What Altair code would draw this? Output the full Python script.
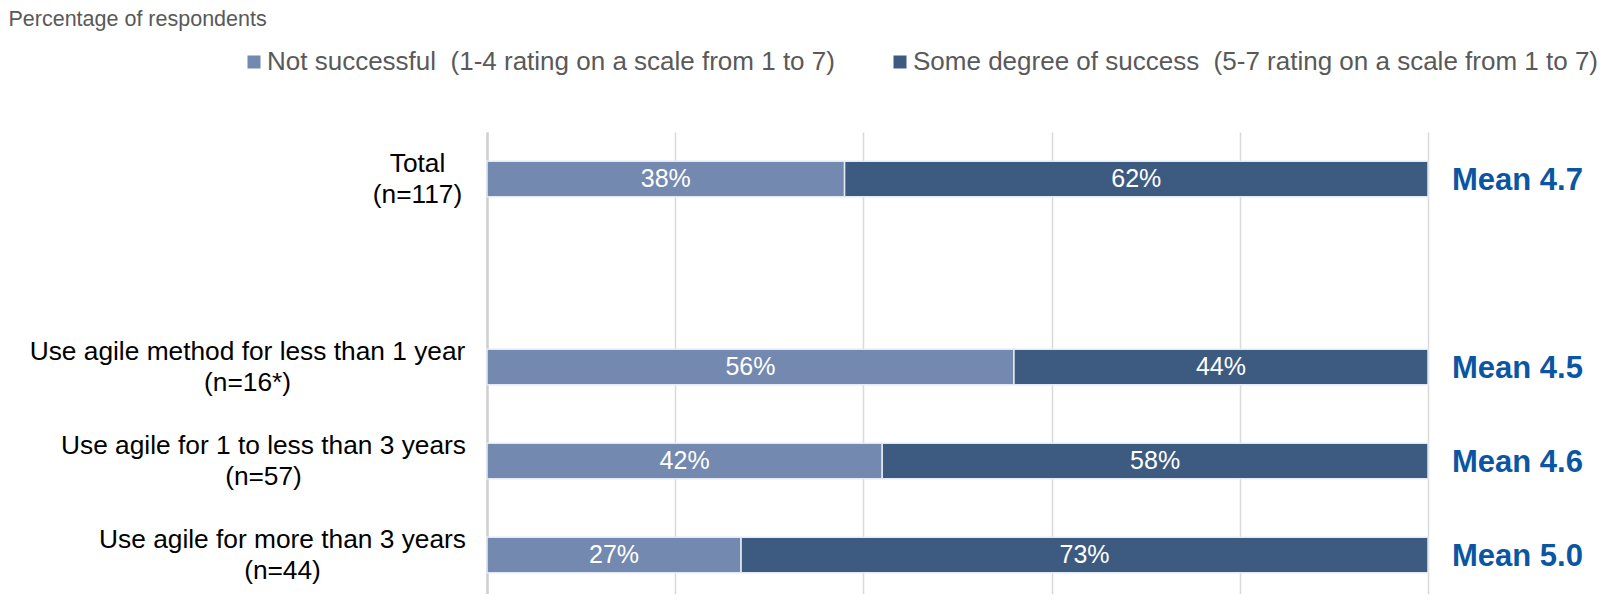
import altair as alt
import pandas as pd

# ---- data ----
categories = [
    "Total (n=117)",
    "Use agile method for less than 1 year (n=16*)",
    "Use agile for 1 to less than 3 years (n=57)",
    "Use agile for more than 3 years (n=44)",
]
series = [
    "Not successful\u00a0 (1-4 rating on a scale from 1 to 7)",
    "Some degree of success\u00a0 (5-7 rating on a scale from 1 to 7)",
]
not_successful = [38, 56, 42, 27]
some_success = [62, 44, 58, 73]
means = [4.7, 4.5, 4.6, 5.0]
x_title = "Percentage of respondents"

# ---- styles ----
colors = ["#7389b0", "#3d5a81"]
FONT = "Liberation Sans"
label_pads = [70, 240, 224, 205]

rows = []
for i, c in enumerate(categories):
    rows.append({"cat": c, "series": series[0], "value": not_successful[i], "order": 0})
    rows.append({"cat": c, "series": series[1], "value": some_success[i], "order": 1})
bars_df = pd.DataFrame(rows)
mean_df = pd.DataFrame({"cat": categories, "mean": means})

domain = [categories[0], ""] + categories[1:]

pad_cond = {
    "condition": [
        {"test": f"datum.value == '{c}'", "value": p}
        for c, p in zip(categories, label_pads)
    ],
    "value": 200,
}

y_enc = alt.Y(
    "cat:N",
    scale=alt.Scale(domain=domain, paddingInner=0.62, paddingOuter=0.31, range=[0, 470]),
    axis=alt.Axis(
        title=None,
        ticks=False,
        tickSize=0,
        domain=True,
        domainColor="#cfcfcf",
        domainWidth=2.5,
        grid=False,
        labelFont=FONT,
        labelFontSize=26.3,
        labelColor="#000000",
        labelAlign="center",
        labelBaseline="middle",
        labelLineHeight=31,
        labelOffset=-15,
        labelLimit=1000,
        labelPadding=pad_cond,
        labelExpr="indexof(datum.label, ' (') < 0 ? '' : [substring(datum.label, 0, indexof(datum.label, ' (')), substring(datum.label, indexof(datum.label, ' (') + 1)]",
    ),
)

x_scale = alt.Scale(domain=[0, 100], nice=False, zero=True)
x_axis = alt.Axis(
    orient="top",
    title=x_title,
    titleX=-479,
    titleY=-107,
    titleAngle=0,
    titleAlign="left",
    titleBaseline="alphabetic",
    titleFont=FONT,
    titleFontSize=21.5,
    titleFontWeight="normal",
    titleColor="#595959",
    labels=False,
    ticks=False,
    domain=False,
    grid=True,
    values=[0, 20, 40, 60, 80, 100],
    gridColor="#d9d9d9",
    gridWidth=1.5,
)

base = alt.Chart(bars_df).transform_stack(
    stack="value",
    groupby=["cat"],
    as_=["x0", "x1"],
    sort=[alt.SortField("order", order="ascending")],
).transform_calculate(
    mid="(datum.x0 + datum.x1) / 2",
    lbl="datum.value + '%'",
)

bars = base.mark_bar(stroke="#e4eaf3", strokeWidth=1.5).encode(
    x=alt.X("x0:Q", scale=x_scale, axis=x_axis),
    x2="x1:Q",
    y=y_enc,
    color=alt.Color(
        "series:N",
        scale=alt.Scale(domain=series, range=colors),
        legend=alt.Legend(
            title=None,
            orient="none",
            direction="horizontal",
            legendX=-246,
            legendY=-83,
            symbolType="square",
            symbolSize=169,
            symbolStrokeWidth=0,
            labelFont=FONT,
            labelFontSize=26,
            labelColor="#595959",
            labelLimit=1000,
            labelOffset=0,
            columnPadding=52,
            padding=0,
        ),
    ),
)

bar_text = base.mark_text(
    font=FONT, fontSize=25, color="white", align="center", baseline="middle"
).encode(
    x=alt.X("mid:Q", scale=x_scale, axis=x_axis),
    y=y_enc,
    text="lbl:N",
)

mean_text = alt.Chart(mean_df).transform_calculate(
    mlbl="'Mean ' + format(datum.mean, '.1f')"
).mark_text(
    font=FONT, fontSize=31, fontWeight="bold", color="#0b56a3",
    align="left", baseline="middle", dx=24, dy=2,
).encode(
    x=alt.datum(100, scale=x_scale),
    y=y_enc,
    text="mlbl:N",
)

chart = alt.layer(bars, bar_text, mean_text).properties(
    width=941,
    height=462,
    padding={"left": 479, "top": 124, "right": 183, "bottom": 0},
    autosize=alt.AutoSizeParams(type="none"),
).configure_view(stroke=None)

chart.save("out.html", embed_options={"renderer": "svg", "actions": False})
